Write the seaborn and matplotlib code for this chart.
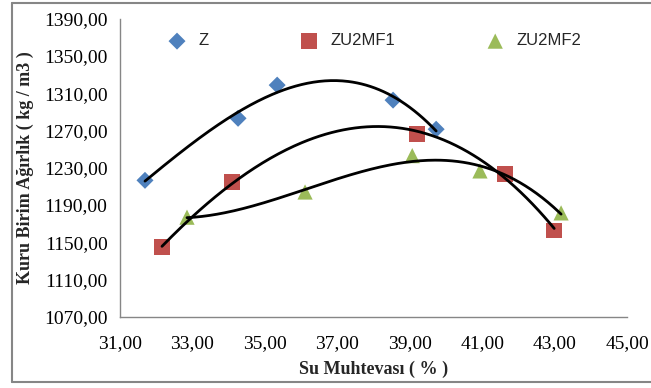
import numpy as np
import pandas as pd
import seaborn as sns
import matplotlib
matplotlib.use("Agg")
import matplotlib.pyplot as plt
from matplotlib.ticker import FuncFormatter, FixedLocator
from matplotlib.lines import Line2D

# ---- data ----
z_x = [31.69, 34.26, 35.34, 38.54, 39.73]
z_y = [1216.5, 1283.0, 1318.6, 1302.5, 1271.3]
mf1_x = [32.16, 34.09, 39.20, 41.64, 42.99]
mf1_y = [1145.0, 1214.4, 1266.0, 1223.0, 1162.8]
mf2_x = [32.85, 36.11, 39.07, 40.94, 43.18]
mf2_y = [1177.0, 1204.0, 1243.0, 1226.6, 1181.6]
series_names = ["Z", "ZU2MF1", "ZU2MF2"]
x_ticks = [31, 33, 35, 37, 39, 41, 43, 45]
y_ticks = [1070, 1110, 1150, 1190, 1230, 1270, 1310, 1350, 1390]

df = pd.DataFrame({
    "x": z_x + mf1_x + mf2_x,
    "y": z_y + mf1_y + mf2_y,
    "s": [series_names[0]] * len(z_x) + [series_names[1]] * len(mf1_x) + [series_names[2]] * len(mf2_x),
})

colors = {"Z": "#4F81BD", "ZU2MF1": "#C0504D", "ZU2MF2": "#9BBB59"}
markers = {"Z": "D", "ZU2MF1": "s", "ZU2MF2": "^"}
sizes = {"Z": 75, "ZU2MF1": 130, "ZU2MF2": 120}

sns.set_style("white")
plt.rcParams["font.family"] = ["Liberation Serif", "DejaVu Serif"]

fig = plt.figure(figsize=(6.51, 3.88), dpi=100)
ax = fig.add_axes([120 / 651, 1 - 317 / 388, (627 - 120) / 651, (317 - 18.5) / 388])

# trend lines (3rd order polynomial)
for name, xs, ys in [("Z", z_x, z_y), ("ZU2MF1", mf1_x, mf1_y), ("ZU2MF2", mf2_x, mf2_y)]:
    c = np.polyfit(xs, ys, 3)
    xx = np.linspace(min(xs), max(xs), 200)
    sns.lineplot(x=xx, y=np.polyval(c, xx), color="black", lw=2.0, ax=ax, zorder=3)

for name in series_names:
    sub = df[df.s == name]
    sns.scatterplot(data=sub, x="x", y="y", color=colors[name], marker=markers[name],
                    s=sizes[name], edgecolor="none", ax=ax, label=name, zorder=2)

ax.set_xlim(31, 45)
ax.set_ylim(1070, 1390)
ax.xaxis.set_major_locator(FixedLocator(x_ticks))
ax.yaxis.set_major_locator(FixedLocator(y_ticks))
fmt = FuncFormatter(lambda v, p: f"{v:.2f}".replace(".", ","))
ax.xaxis.set_major_formatter(fmt)
ax.yaxis.set_major_formatter(fmt)

for sp in ["top", "right"]:
    ax.spines[sp].set_visible(False)
for sp in ["left", "bottom"]:
    ax.spines[sp].set_color("#868686")
    ax.spines[sp].set_linewidth(1.0)
ax.tick_params(axis="both", which="major", direction="out", length=5, width=1.0,
               color="#868686", labelsize=14, labelcolor="black", pad=4)
ax.tick_params(axis="x", pad=8)

ax.set_xlabel("Su Muhtevası ( % )", fontsize=13, fontweight="bold", labelpad=6)
ax.set_ylabel("Kuru Birim Ağırlık ( kg / m3 )", fontsize=13, fontweight="bold", labelpad=7)

leg = ax.legend(loc="upper left", bbox_to_anchor=(0.05, 1.0), ncol=3, frameon=False,
                columnspacing=5.0, handletextpad=0.3, labelcolor="#262626",
                prop={"family": "Liberation Sans", "size": 12})

# outer chart border (left, top, bottom)
for (x0, y0, x1, y1) in [(12, 3, 12, 382), (12, 3, 651, 3), (12, 382, 651, 382)]:
    fig.add_artist(Line2D([x0 / 651, x1 / 651], [1 - y0 / 388, 1 - y1 / 388],
                          transform=fig.transFigure, color="#868686", lw=1.5))

fig.savefig("out.png", dpi=100)
